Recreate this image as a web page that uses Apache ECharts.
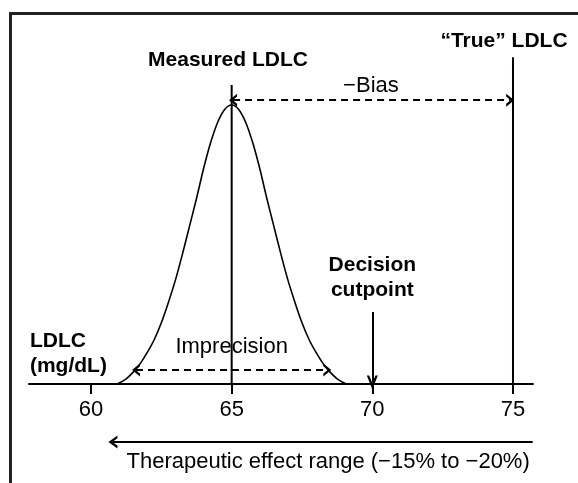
<!DOCTYPE html>
<html><head><meta charset="utf-8">
<script src="https://cdn.jsdelivr.net/npm/echarts@6/dist/echarts.min.js"></script>
<style>html,body{margin:0;padding:0;background:#fff}#c{width:578px;height:483px}</style>
</head><body><div id="c"></div>
<script>
// ---- data ----
const xTicks = [60, 65, 70, 75];
const curveX = [60.93, 61.25, 61.5, 61.75, 62, 62.25, 62.5, 62.75, 63, 63.25, 63.5, 63.75, 64, 64.25, 64.5, 64.75, 65,
                65.25, 65.5, 65.75, 66, 66.25, 66.5, 66.75, 67, 67.25, 67.5, 67.75, 68, 68.25, 68.5, 68.75, 69.07];
const curveY = [0, 1.4, 3.2, 5.5, 8.5, 12, 16.5, 22, 28, 35, 42.5, 50, 58, 65, 70.5, 74, 75.2,
                74, 70.5, 65, 58, 50, 42.5, 35, 28, 22, 16.5, 12, 8.5, 5.5, 3.2, 1.4, 0];
const measuredLDLC = 65, measuredTop = 80.6;
const trueLDLC = 75, trueTop = 88.1;
const decisionCutpoint = 70, decisionFrom = 19.4, decisionTo = 0.4;
const biasFrom = 65.05, biasTo = 74.9, biasY = 76.5;
const imprecisionFrom = 61.6, imprecisionTo = 68.4, imprecisionY = 3.8;
const therapeuticFrom = 75.7, therapeuticTo = 60.78, therapeuticY = -15.6;
const annotations = [
  {name: 'Measured LDLC', value: [64.87, 87.3], bold: true},
  {name: '\u201cTrue\u201d LDLC', value: [74.68, 92.5], bold: true},
  {name: '\u2212Bias', value: [69.95, 80.3], bold: false},
  {name: 'Decision\ncutpoint', value: [70.0, 28.6], bold: true},
  {name: 'LDLC\n(mg/dL)', value: [57.83, 8.3], bold: true, left: true},
  {name: 'Imprecision', value: [65.0, 9.9], bold: false},
  {name: 'Therapeutic effect range (\u221215% to \u221220%)', value: [68.43, -21.0], bold: false}
];

const FONT = '"Liberation Sans", Arial, sans-serif';
const chevron = 'path://M0,10 L5,0 L10,10 L7.8,10 L5,4.4 L2.2,10 Z';
const chart = echarts.init(document.getElementById('c'), null, {renderer: 'canvas'});
chart.setOption({
  animation: false,
  backgroundColor: '#fff',
  grid: {left: 29, right: 45, top: 13, bottom: 6.25, containLabel: false, outerBoundsMode: 'none'},
  xAxis: {
    type: 'value', min: 57.796, max: 75.711, position: 'bottom', offset: -92.75,
    axisLine: {show: true, onZero: false, lineStyle: {color: '#000', width: 2}},
    axisTick: {show: true, customValues: xTicks, length: 10, lineStyle: {color: '#000', width: 2}},
    axisLabel: {show: true, customValues: xTicks, margin: 15, fontSize: 22, color: '#000', fontFamily: FONT},
    splitLine: {show: false}
  },
  yAxis: {type: 'value', min: -25, max: 100, show: false},
  graphic: [
    {type: 'line', shape: {x1: 10, y1: 13.5, x2: 578, y2: 13.5}, style: {stroke: '#222', lineWidth: 3}},
    {type: 'line', shape: {x1: 10.5, y1: 12, x2: 10.5, y2: 483}, style: {stroke: '#222', lineWidth: 3}}
  ],
  series: [
    {
      type: 'line', name: 'distribution', smooth: 0.3, symbol: 'none',
      data: curveX.map((x, i) => [x, curveY[i]]),
      lineStyle: {color: '#000', width: 1.6},
      clip: false
    },
    {
      type: 'line', name: 'measured', symbol: 'none',
      data: [[measuredLDLC, 0], [measuredLDLC, measuredTop]],
      lineStyle: {color: '#000', width: 2}
    },
    {
      type: 'line', name: 'true', symbol: 'none',
      data: [[trueLDLC, 0], [trueLDLC, trueTop]],
      lineStyle: {color: '#000', width: 2}
    },
    {
      type: 'line', name: 'arrows', symbol: 'none', data: [], clip: false,
      markLine: {
        silent: true, animation: false,
        label: {show: false},
        emphasis: {disabled: true},
        data: [
          [{coord: [biasFrom, biasY], symbol: chevron, symbolSize: [13, 8]},
           {coord: [biasTo, biasY], symbol: chevron, symbolSize: [13, 8],
            lineStyle: {type: [7, 5], width: 2, color: '#000'}}],
          [{coord: [imprecisionFrom, imprecisionY], symbol: chevron, symbolSize: [13, 8]},
           {coord: [imprecisionTo, imprecisionY], symbol: chevron, symbolSize: [13, 8],
            lineStyle: {type: [7, 5], width: 2, color: '#000'}}],
          [{coord: [decisionCutpoint, decisionFrom], symbol: 'none'},
           {coord: [decisionCutpoint, decisionTo], symbol: chevron, symbolSize: [11, 14],
            lineStyle: {type: 'solid', width: 2, color: '#000'}}],
          [{coord: [therapeuticFrom, therapeuticY], symbol: 'none'},
           {coord: [therapeuticTo, therapeuticY], symbol: chevron, symbolSize: [13, 9],
            lineStyle: {type: 'solid', width: 2, color: '#000'}}]
        ],
        lineStyle: {color: '#000', width: 2}
      }
    },
    {
      type: 'scatter', name: 'labels', symbolSize: 0, clip: false, silent: true,
      itemStyle: {color: '#000'},
      data: annotations.map(a => ({
        name: a.name, value: a.value,
        label: {
          show: true, position: 'inside', formatter: '{b}',
          align: a.left ? 'left' : 'center', verticalAlign: 'middle',
          fontFamily: FONT, fontSize: a.bold ? 21 : 22,
          fontWeight: a.bold ? 'bold' : 'normal', color: '#000',
          textBorderWidth: 0, opacity: 1,
          lineHeight: a.bold ? 25 : 24
        }
      }))
    }
  ]
});
</script></body></html>
